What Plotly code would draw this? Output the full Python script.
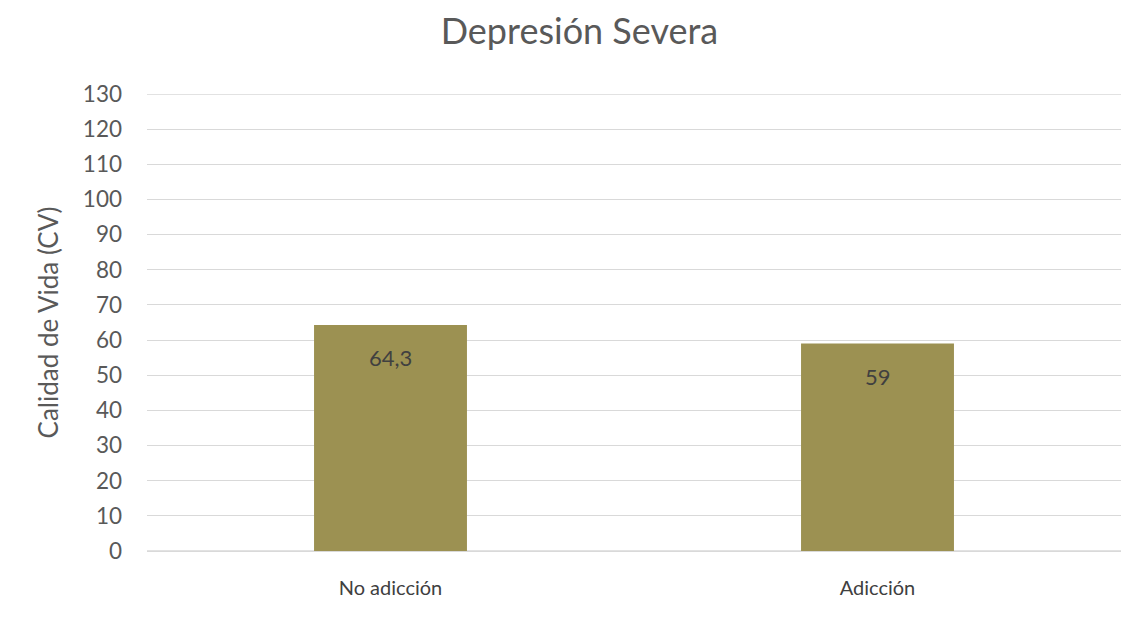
import plotly.graph_objects as go

categories = ["No adicción", "Adicción"]
values = [64.3, 59]
labels = ["64,3", "59"]
yticks = list(range(0, 131, 10))

FONT = "Lato"
GRID = "#D9D9D9"
fig = go.Figure(go.Bar(
    x=categories, y=values,
    marker=dict(color="#9C9152", line=dict(width=0)),
    width=0.314, hoverinfo="x+y",
))
for c, v, t in zip(categories, values, labels):
    fig.add_annotation(x=c, y=v, text=t, showarrow=False, yshift=-33,
                       yanchor="middle", xanchor="center",
                       font=dict(family=FONT, size=22, color="#404040"))
fig.update_layout(
    width=1131, height=619,
    margin=dict(l=147, r=10, t=94, b=68),
    paper_bgcolor="white", plot_bgcolor="white",
    title=dict(text="Depresión Severa", x=0.444, xref="paper", xanchor="center",
               y=1 - 31/619, yref="container", yanchor="middle",
               font=dict(family=FONT, size=36, color="#595959")),
    font=dict(family=FONT, color="#595959"),
    showlegend=False,
)
fig.update_yaxes(range=[0, 130], tickvals=yticks, ticktext=[str(v) for v in yticks],
                 showgrid=True, gridcolor=GRID, gridwidth=1.3, zeroline=False,
                 showline=False, ticks="", ticklabelstandoff=24,
                 tickfont=dict(family=FONT, size=22.5, color="#595959"),
                 title=dict(text="Calidad de Vida (CV)", standoff=16,
                            font=dict(family=FONT, size=26, color="#595959")))
fig.update_xaxes(showline=True, linecolor=GRID, linewidth=1.3, ticks="",
                 ticklabelstandoff=19,
                 tickfont=dict(family=FONT, size=20, color="#404040"))
for yv in (yticks[0], yticks[-1]):
    fig.add_shape(type="line", xref="paper", yref="y", x0=0, x1=1, y0=yv, y1=yv,
                  line=dict(color=GRID, width=1.3), layer="below")
fig.write_html("out.html")
